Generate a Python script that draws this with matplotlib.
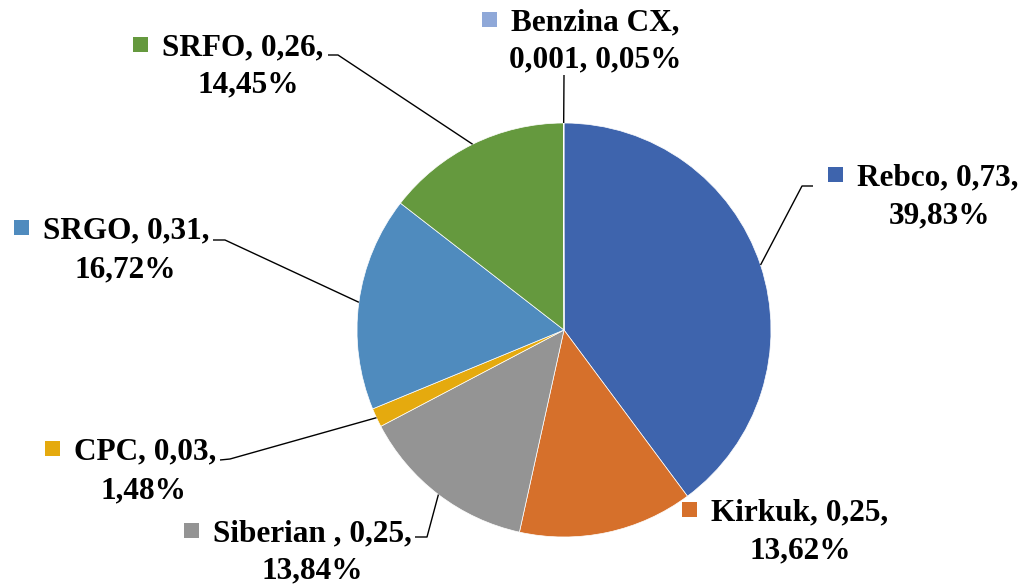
import numpy as np
import matplotlib
matplotlib.use("Agg")
import matplotlib.pyplot as plt
from matplotlib.patches import Rectangle

# ---- data ----
categories = ['Rebco', 'Kirkuk', 'Siberian ', 'CPC', 'SRGO', 'SRFO', 'Benzina CX']
values = ['0,73', '0,25', '0,25', '0,03', '0,31', '0,26', '0,001']
shares = [39.83, 13.62, 13.84, 1.48, 16.72, 14.45, 0.05]
share_labels = ['39,83%', '13,62%', '13,84%', '1,48%', '16,72%', '14,45%', '0,05%']
colors = ['#3E64AD', '#D6702B', '#949494', '#E5AA0E', '#4F8BBE', '#65993E', '#8FA8D8']

W, H = 1024, 584
fig = plt.figure(figsize=(W / 100, H / 100), dpi=100)
ax = fig.add_axes([0, 0, 1, 1])

def Y(y):
    return H - y

cx, cy, R = 564, Y(330), 207
wedges, _ = ax.pie(shares, colors=colors, startangle=90, counterclock=False,
                   center=(cx, cy), radius=R,
                   wedgeprops=dict(edgecolor='white', linewidth=0.5))
ax.set_xlim(0, W)
ax.set_ylim(0, H)
ax.set_aspect('auto')
ax.axis('off')

font = dict(family=['Liberation Serif', 'DejaVu Serif'], weight='bold', size=22.5)

# label layout: (line1 center x, line1 baseline y, line2 center x, line2 baseline y)
layout = {
    'Rebco': (938, 185, 939, 223),
    'Kirkuk': (800, 520, 800, 558),
    'Siberian ': (312, 541, 312, 578),
    'CPC': (145, 459, 143, 498),
    'SRGO': (126, 238, 125, 277),
    'SRFO': (243, 55, 248, 92),
    'Benzina CX': (595, 30, 595, 67),
}
# leader lines: label-side points (pixel coords from top)
leaders = {
    'Rebco': [(813, 186), (802, 186)],
    'Siberian ': [(415, 537), (427, 537)],
    'CPC': [(220, 460), (230, 459)],
    'SRGO': [(213, 240), (225, 240)],
    'SRFO': [(328, 55), (338, 55)],
    'Benzina CX': [(564, 75)],
}

texts1 = []
for i, cat in enumerate(categories):
    if cat == 'Benzina CX':
        l1 = f'{cat},'
        l2 = f'{values[i]}, {share_labels[i]}'
    else:
        l1 = f'{cat}, {values[i]},'
        l2 = share_labels[i]
    x1, y1, x2, y2 = layout[cat]
    t1 = ax.text(x1, Y(y1), l1, ha='center', va='baseline', color='black', **font)
    ax.text(x2, Y(y2), l2, ha='center', va='baseline', color='black', **font)
    texts1.append((t1, colors[i]))

    if cat in leaders:
        w = wedges[i]
        th = np.deg2rad((w.theta1 + w.theta2) / 2)
        ex, ey = cx + R * np.cos(th), cy + R * np.sin(th)
        pts = [(px, Y(py)) for px, py in leaders[cat]] + [(ex, ey)]
        xs, ys = zip(*pts)
        ax.plot(xs, ys, color='black', lw=1.0, solid_capstyle='butt', zorder=3)

fig.canvas.draw()
renderer = fig.canvas.get_renderer()
inv = ax.transData.inverted()
for t, c in texts1:
    bb = t.get_window_extent(renderer)
    (lx, by), (rx, ty) = inv.transform([(bb.x0, bb.y0), (bb.x1, bb.y1)])
    s = 15
    x0, y_base = lx - 14 - s, t.get_position()[1]
    ax.add_patch(Rectangle((x0, y_base + 3), s, s, color=c, lw=0, zorder=4))

fig.savefig('out.png', dpi=100)
